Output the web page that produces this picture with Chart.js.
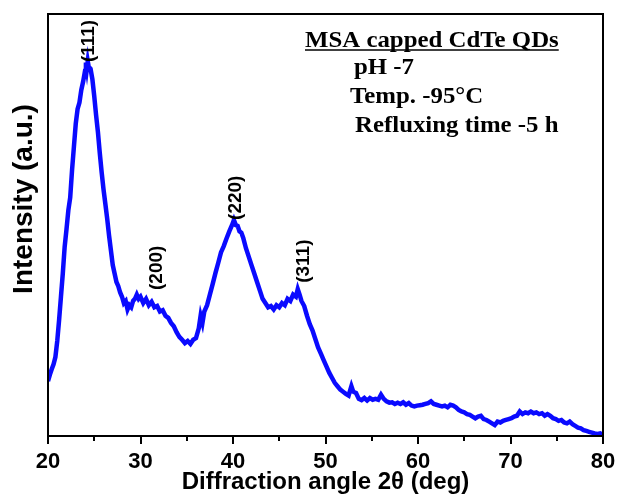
<!DOCTYPE html>
<html>
<head>
<meta charset="utf-8">
<script src="https://cdn.jsdelivr.net/npm/chart.js@4.4.0/dist/chart.umd.min.js"></script>
<style>
    html, body { margin: 0; padding: 0; background: #fff; }
    #wrap { width: 619px; height: 497px; }
</style>
</head>
<body>
<div id="wrap"><canvas id="xrdCanvas" width="619" height="497"></canvas></div>
<script>
// diffraction angle 2theta (deg)
let angles = [
    20.0, 20.2, 20.4, 20.6, 20.8, 21.0, 21.2, 21.4, 21.6, 21.8, 22.0, 22.2, 22.4, 22.6, 22.8,
    23.0, 23.2, 23.4, 23.6, 23.8, 24.0, 24.1, 24.2, 24.3, 24.4, 24.6, 24.8, 25.0, 25.2, 25.4,
    25.6, 25.8, 26.0, 26.2, 26.4, 26.6, 26.8, 27.0, 27.2, 27.4, 27.6, 27.8, 28.0, 28.2, 28.4,
    28.6, 28.8, 29.0, 29.2, 29.4, 29.6, 29.8, 30.0, 30.3, 30.6, 30.9, 31.2, 31.5, 31.8, 32.1,
    32.4, 32.7, 33.0, 33.3, 33.6, 33.9, 34.2, 34.5, 34.8, 35.1, 35.4, 35.7, 36.0, 36.3, 36.5,
    36.7, 36.9, 37.2, 37.5, 37.8, 38.1, 38.4, 38.7, 39.0, 39.3, 39.6, 39.9, 40.1, 40.3, 40.5,
    40.7, 40.9, 41.1, 41.4, 41.7, 42.0, 42.3, 42.6, 42.9, 43.2, 43.5, 43.8, 44.1, 44.4, 44.7,
    45.0, 45.3, 45.6, 45.9, 46.2, 46.5, 46.8, 47.0, 47.2, 47.4, 47.7, 48.0, 48.3, 48.6, 48.9,
    49.2, 49.5, 49.8, 50.1, 50.4, 50.7, 51.0, 51.3, 51.6, 51.9, 52.2, 52.5, 52.8, 53.0, 53.3,
    53.6, 53.9, 54.2, 54.5, 54.8, 55.1, 55.4, 55.7, 56.0, 56.3, 56.6, 56.9, 57.2, 57.5, 57.8,
    58.1, 58.4, 58.7, 59.0, 59.3, 59.6, 59.9, 60.2, 60.5, 60.8, 61.1, 61.4, 61.7, 62.0, 62.3,
    62.6, 62.9, 63.2, 63.5, 63.8, 64.1, 64.4, 64.7, 65.0, 65.3, 65.6, 65.9, 66.2, 66.5, 66.8,
    67.1, 67.4, 67.7, 68.0, 68.3, 68.6, 68.9, 69.2, 69.5, 69.8, 70.1, 70.4, 70.7, 71.0, 71.3,
    71.6, 71.9, 72.2, 72.5, 72.8, 73.1, 73.4, 73.7, 74.0, 74.3, 74.6, 74.9, 75.2, 75.5, 75.8,
    76.1, 76.4, 76.7, 77.0, 77.3, 77.6, 77.9, 78.2, 78.5, 78.8, 79.1, 79.4, 79.7, 80.0
];
// intensity (a.u.)
let intensity = [
    13.0, 14.5, 15.8, 17.0, 18.7, 22.5, 27.5, 33.0, 38.5, 44.8, 49.0, 53.5, 56.5, 63.0, 68.5,
    74.0, 77.5, 79.0, 82.0, 84.0, 86.5, 88.5, 87.0, 88.8, 87.5, 87.0, 84.5, 80.5, 76.0, 72.0,
    67.0, 62.5, 58.5, 55.0, 51.5, 47.5, 44.0, 40.5, 38.5, 36.5, 35.5, 34.0, 33.0, 31.5, 32.0,
    30.0, 31.0, 30.5, 32.0, 32.5, 33.5, 32.5, 33.0, 31.5, 32.5, 31.0, 31.8, 30.5, 30.8, 29.5,
    29.8, 28.5, 28.0, 26.8, 26.0, 24.6, 23.5, 22.8, 22.0, 22.5, 21.8, 22.8, 23.2, 25.5, 28.5,
    26.8, 29.5, 31.0, 33.5, 36.0, 38.6, 41.0, 43.5, 45.0, 46.8, 48.5, 50.0, 51.2, 50.0, 49.8,
    48.5, 48.2, 47.0, 44.5, 42.5, 40.5, 38.5, 36.5, 34.5, 32.5, 31.5, 30.5, 30.8, 30.0, 31.0,
    30.5, 31.5, 31.0, 32.5, 32.0, 33.5, 33.0, 34.8, 33.5, 32.0, 30.8, 28.5, 26.5, 25.0, 23.0,
    21.0, 19.5, 18.0, 16.5, 15.0, 13.8, 12.6, 11.8, 11.0, 10.5, 10.0, 9.6, 11.8, 10.5, 10.2,
    8.8, 8.5, 9.0, 8.4, 9.0, 8.6, 8.8, 8.6, 9.8, 8.8, 8.2, 7.9, 8.0, 7.6, 7.9,
    7.6, 8.0, 7.4, 7.8, 7.2, 7.0, 7.2, 7.3, 7.4, 7.6, 7.8, 8.2, 7.6, 7.4, 7.2,
    7.0, 7.2, 6.8, 7.4, 7.2, 6.8, 6.2, 5.8, 5.6, 5.2, 5.0, 4.6, 4.2, 4.6, 4.8,
    4.0, 3.8, 3.4, 3.0, 2.6, 3.4, 3.2, 3.6, 3.8, 4.0, 4.2, 4.6, 4.8, 5.8, 5.2,
    5.6, 5.4, 5.8, 5.4, 5.6, 5.2, 5.4, 4.8, 5.2, 4.8, 4.2, 4.0, 3.6, 3.8, 3.2,
    3.0, 3.4, 2.8, 2.4, 2.0, 1.8, 1.4, 1.2, 1.0, 0.8, 0.6, 0.5, 0.6, 0.2
];
let xTicks = [20, 30, 40, 50, 60, 70, 80];
let peakLabels = ['(111)', '(200)', '(220)', '(311)'];
let peakAngles = [24.4, 31.8, 40.3, 47.6];
let peakBase = [88.6, 34.6, 51.2, 36.3];
let infoLines = ['MSA capped CdTe QDs', 'pH -7', 'Temp. -95°C', 'Refluxing time -5 h'];

let points = angles.map((a, i) => ({x: a, y: intensity[i]}));

let decorPlugin = {
    id: 'decor',
    afterDraw(chart) {
        let ctx = chart.ctx;
        let area = chart.chartArea;
        let xs = chart.scales.x, ys = chart.scales.y;
        ctx.save();
        // frame
        ctx.strokeStyle = '#000';
        ctx.lineWidth = 2;
        ctx.strokeRect(area.left, area.top, area.right - area.left, area.bottom - area.top);
        // ticks, major and minor
        for (let v = 20; v <= 80; v += 5) {
            let px = Math.round(xs.getPixelForValue(v));
            let len = (v % 10 === 0) ? 8 : 5;
            ctx.beginPath();
            ctx.moveTo(px, area.bottom);
            ctx.lineTo(px, area.bottom + len);
            ctx.stroke();
        }
        // y title
        ctx.fillStyle = '#000';
        ctx.font = 'bold 28px "Liberation Sans", Arial, sans-serif';
        ctx.textAlign = 'center';
        ctx.textBaseline = 'middle';
        ctx.save();
        ctx.translate(24, 199);
        ctx.rotate(-Math.PI / 2);
        ctx.fillText('Intensity (a.u.)', 0, 0);
        ctx.restore();
        // peak labels
        ctx.font = 'bold 19px "Liberation Sans", Arial, sans-serif';
        ctx.textAlign = 'left';
        for (let i = 0; i < peakLabels.length; i++) {
            ctx.save();
            ctx.translate(xs.getPixelForValue(peakAngles[i]), ys.getPixelForValue(peakBase[i]));
            ctx.rotate(-Math.PI / 2);
            ctx.fillText(peakLabels[i], 0, 0);
            ctx.restore();
        }
        // info text
        ctx.font = 'bold 23px "Liberation Serif", "Times New Roman", serif';
        ctx.textBaseline = 'alphabetic';
        let infoX = [305, 354, 350, 355];
        let infoY = [47, 74, 103, 132];
        for (let i = 0; i < infoLines.length; i++) {
            ctx.save();
            ctx.translate(infoX[i], infoY[i]);
            ctx.scale(1.08, 1);
            ctx.fillText(infoLines[i], 0, 0);
            ctx.restore();
        }
        let w = ctx.measureText(infoLines[0]).width * 1.08;
        ctx.lineWidth = 1.5;
        ctx.beginPath();
        ctx.moveTo(infoX[0], infoY[0] + 3);
        ctx.lineTo(infoX[0] + w, infoY[0] + 3);
        ctx.stroke();
        ctx.restore();
    }
};

let chartXrd = new Chart(document.getElementById('xrdCanvas'), {
    type: 'line',
    data: {
        datasets: [{
            data: points,
            borderColor: 'rgb(10,10,255)',
            backgroundColor: 'transparent',
            borderWidth: 4.5,
            pointRadius: 0,
            tension: 0,
            fill: false
        }]
    },
    options: {
        responsive: false,
        animation: false,
        layout: {padding: {top: 14, right: 16, left: 0, bottom: 0}},
        plugins: {legend: {display: false}, tooltip: {enabled: false}},
        scales: {
            x: {
                type: 'linear',
                min: 20,
                max: 80,
                afterFit: s => { s.height = 61; s.paddingLeft = 0; s.paddingRight = 0; },
                afterBuildTicks: s => { s.ticks = xTicks.map(v => ({value: v})); },
                grid: {display: false},
                border: {display: false},
                ticks: {
                    color: '#000',
                    font: {family: '"Liberation Sans", Arial, sans-serif', size: 22, weight: 'bold'},
                    padding: 5,
                    maxRotation: 0
                },
                title: {
                    display: true,
                    text: 'Diffraction angle 2θ (deg)',
                    color: '#000',
                    font: {family: '"Liberation Sans", Arial, sans-serif', size: 24, weight: 'bold'},
                    padding: {top: 0, bottom: 0}
                }
            },
            y: {
                min: 0,
                max: 100,
                afterFit: s => { s.width = 48; },
                grid: {display: false},
                border: {display: false},
                ticks: {display: false}
            }
        }
    },
    plugins: [decorPlugin]
});
</script>
</body>
</html>
